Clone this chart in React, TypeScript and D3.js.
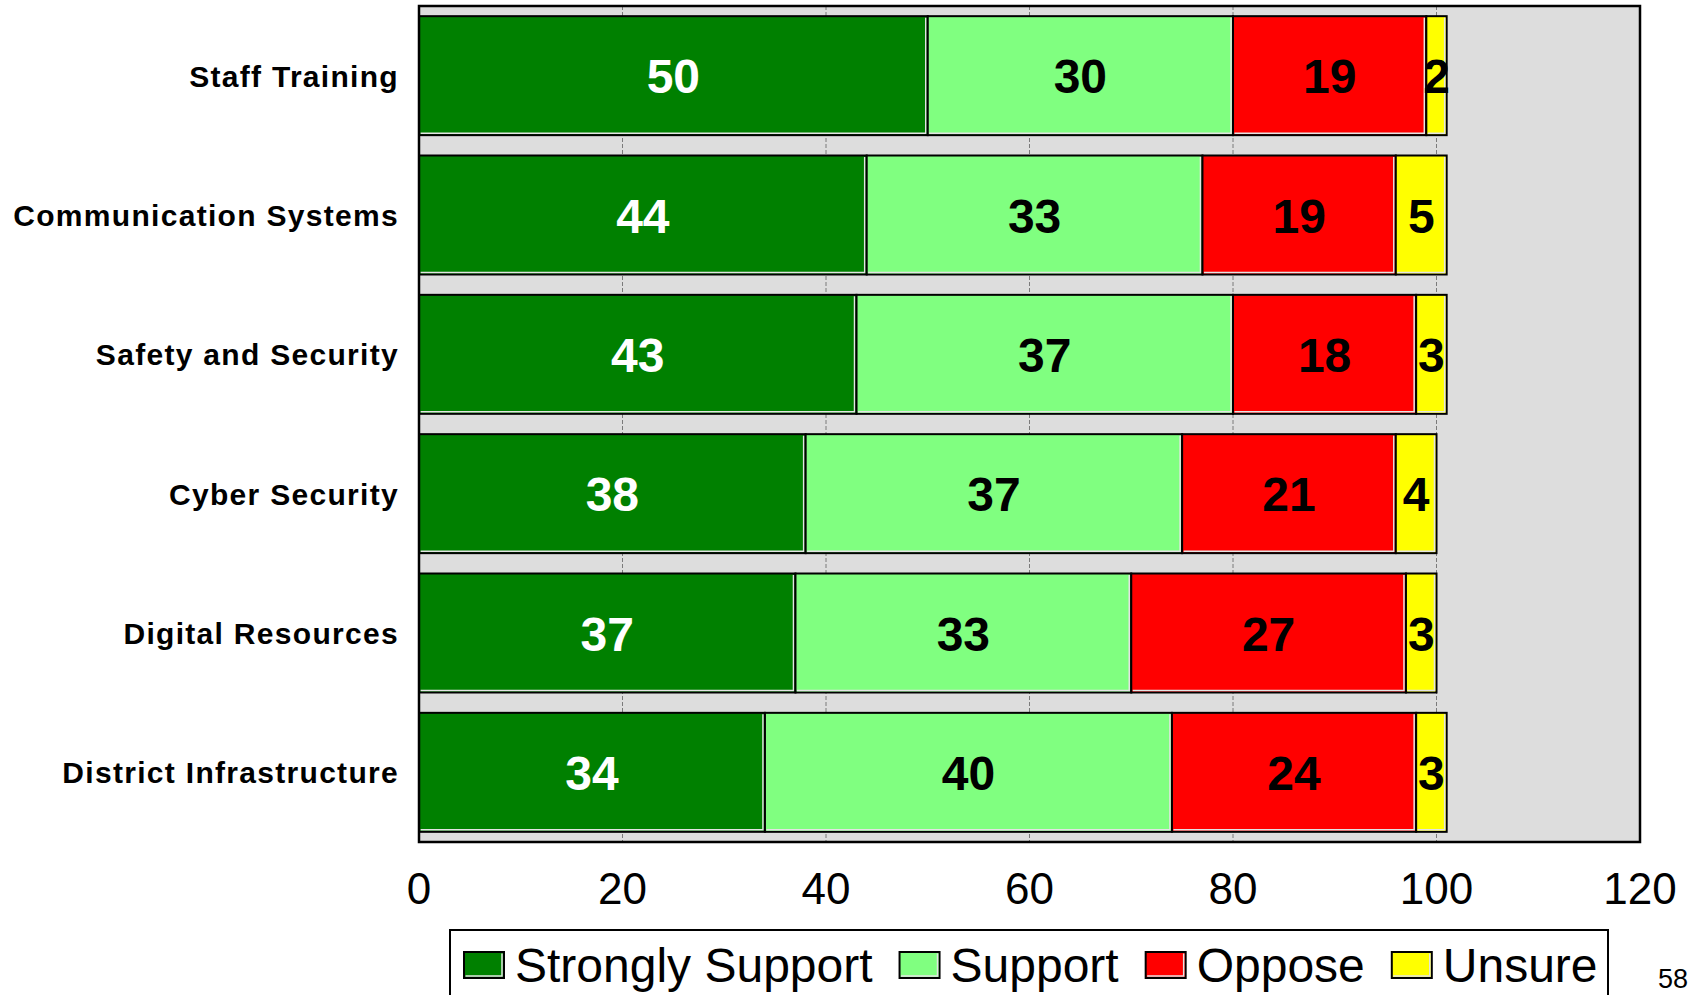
import { useEffect, useRef } from "react";
import * as d3 from "d3";

const categories = [
  "Staff Training",
  "Communication Systems",
  "Safety and Security",
  "Cyber Security",
  "Digital Resources",
  "District Infrastructure",
];

const seriesNames = ["Strongly Support", "Support", "Oppose", "Unsure"];

const stronglySupport = [50, 44, 43, 38, 37, 34];
const support = [30, 33, 37, 37, 33, 40];
const oppose = [19, 19, 18, 21, 27, 24];
const unsure = [2, 5, 3, 4, 3, 3];

const xTicks = [0, 20, 40, 60, 80, 100, 120];

const colors = ["#008000", "#80FF80", "#FF0000", "#FFFF00"];
const labelColors = ["#ffffff", "#000000", "#000000", "#000000"];

const FONT = "'Liberation Sans', Arial, Helvetica, sans-serif";

const App = () => {
  const ref = useRef<SVGSVGElement | null>(null);

  useEffect(() => {
    document.body.style.margin = "0";
    drawChart();
  }, []);

  const drawChart = () => {
    const svg = d3.select(ref.current);
    svg.selectAll("*").remove();

    const plot = { left: 419, right: 1640, top: 6, bottom: 842 };

    const xScale = d3.scaleLinear().domain([0, 120]).range([plot.left, plot.right]);
    const yScale = d3
      .scaleBand()
      .domain(categories)
      .range([plot.top, plot.bottom])
      .paddingInner(0.146)
      .paddingOuter(0.073);

    // stacked rows
    const rows = categories.map((c, i) => ({
      category: c,
      values: [stronglySupport[i], support[i], oppose[i], unsure[i]],
    }));
    const stacked = rows.map((r) => {
      let acc = 0;
      return r.values.map((v, k) => {
        const seg = { category: r.category, k, v, x0: acc, x1: acc + v };
        acc += v;
        return seg;
      });
    });

    // plot background
    svg
      .append("rect")
      .attr("x", plot.left)
      .attr("y", plot.top)
      .attr("width", plot.right - plot.left)
      .attr("height", plot.bottom - plot.top)
      .attr("fill", "#DDDDDD");

    // vertical grid lines
    svg
      .append("g")
      .selectAll("line")
      .data(xTicks.slice(1, -1))
      .join("line")
      .attr("x1", (d) => xScale(d))
      .attr("x2", (d) => xScale(d))
      .attr("y1", plot.top)
      .attr("y2", plot.bottom)
      .attr("stroke", "#7a7a7a")
      .attr("stroke-width", 1)
      .attr("stroke-dasharray", "4,2");

    // bars
    const segs = stacked.flat();
    const bh = yScale.bandwidth();
    const g = svg.append("g");
    const seg = g
      .selectAll("g.seg")
      .data(segs)
      .join("g")
      .attr("class", "seg");

    seg
      .append("rect")
      .attr("x", (d) => xScale(d.x0))
      .attr("y", (d) => yScale(d.category)!)
      .attr("width", (d) => xScale(d.x1) - xScale(d.x0))
      .attr("height", bh)
      .attr("fill", (d) => colors[d.k])
      .attr("stroke", "#000")
      .attr("stroke-width", 2);

    // light inner edge, right + bottom
    seg
      .append("path")
      .attr("d", (d) => {
        const x0 = xScale(d.x0) + 1.5;
        const x1 = xScale(d.x1) - 2;
        const y0 = yScale(d.category)! + 1.5;
        const y1 = yScale(d.category)! + bh - 2;
        return `M${x0},${y1}H${x1}V${y0}`;
      })
      .attr("fill", "none")
      .attr("stroke", "#e4e4e4")
      .attr("stroke-width", 1.5);

    // value labels
    g.selectAll("text.val")
      .data(segs)
      .join("text")
      .attr("class", "val")
      .attr("x", (d) => (xScale(d.x0) + xScale(d.x1)) / 2)
      .attr("y", (d) => yScale(d.category)! + bh / 2 + 17.5)
      .attr("text-anchor", "middle")
      .attr("font-family", FONT)
      .attr("font-weight", "bold")
      .attr("font-size", 48)
      .attr("fill", (d) => labelColors[d.k])
      .text((d) => d.v);

    // plot border
    svg
      .append("rect")
      .attr("x", plot.left)
      .attr("y", plot.top)
      .attr("width", plot.right - plot.left)
      .attr("height", plot.bottom - plot.top)
      .attr("fill", "none")
      .attr("stroke", "#000")
      .attr("stroke-width", 2.5);

    // category labels
    svg
      .append("g")
      .selectAll("text")
      .data(categories)
      .join("text")
      .attr("x", 399)
      .attr("y", (d) => yScale(d)! + bh / 2 + 11)
      .attr("text-anchor", "end")
      .attr("font-family", FONT)
      .attr("font-weight", "bold")
      .attr("font-size", 30)
      .attr("letter-spacing", 1.3)
      .attr("fill", "#000")
      .text((d) => d);

    // x tick labels
    svg
      .append("g")
      .selectAll("text")
      .data(xTicks)
      .join("text")
      .attr("x", (d) => xScale(d))
      .attr("y", 904)
      .attr("text-anchor", "middle")
      .attr("font-family", FONT)
      .attr("font-size", 44)
      .attr("fill", "#000")
      .text((d) => d);

    // legend
    const legend = svg.append("g");
    legend
      .append("rect")
      .attr("x", 450)
      .attr("y", 930)
      .attr("width", 1608 - 450)
      .attr("height", 100)
      .attr("fill", "#fff")
      .attr("stroke", "#000")
      .attr("stroke-width", 2);

    let lx = 464;
    seriesNames.forEach((name, k) => {
      const item = legend.append("g");
      item
        .append("rect")
        .attr("x", lx)
        .attr("y", 952)
        .attr("width", 40)
        .attr("height", 26)
        .attr("fill", colors[k])
        .attr("stroke", "#000")
        .attr("stroke-width", 2);
      item
        .append("path")
        .attr("d", `M${lx + 1.5},${952 + 24}H${lx + 38}V${953.5}`)
        .attr("fill", "none")
        .attr("stroke", "#e4e4e4")
        .attr("stroke-width", 1.5);
      const t = item
        .append("text")
        .attr("x", lx + 51)
        .attr("y", 982)
        .attr("font-family", FONT)
        .attr("font-size", 48)
        .attr("fill", "#000")
        .text(name);
      const w = (t.node() as SVGTextElement).getComputedTextLength();
      lx += 51 + w + 27;
    });

    // page number
    svg
      .append("text")
      .attr("x", 1658)
      .attr("y", 988)
      .attr("font-family", FONT)
      .attr("font-size", 27)
      .attr("fill", "#000")
      .text("58");
  };

  return <svg ref={ref} width={1692} height={995} style={{ display: "block", background: "#fff" }} />;
};

export default App;
